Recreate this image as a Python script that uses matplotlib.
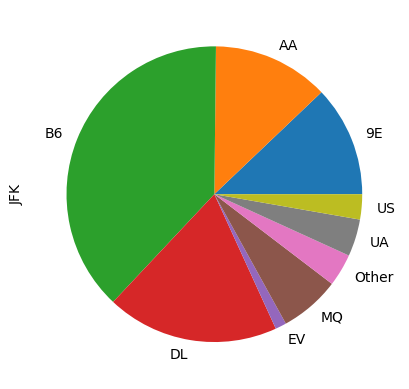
import matplotlib

matplotlib.use("Agg")
import matplotlib.pyplot as plt  # noqa: E402

# share of flights by carrier at JFK (%)
carriers = ["9E", "AA", "B6", "DL", "EV", "MQ", "Other", "UA", "US"]
shares = [12.11, 12.72, 38.17, 18.83, 1.21, 6.60, 3.56, 4.06, 2.75]

fig, ax = plt.subplots(figsize=(6.4, 4.8), dpi=100)
ax.pie(shares, labels=carriers)
ax.set_ylabel("JFK")
fig.savefig("out.png", dpi=100, bbox_inches="tight")
plt.close(fig)
